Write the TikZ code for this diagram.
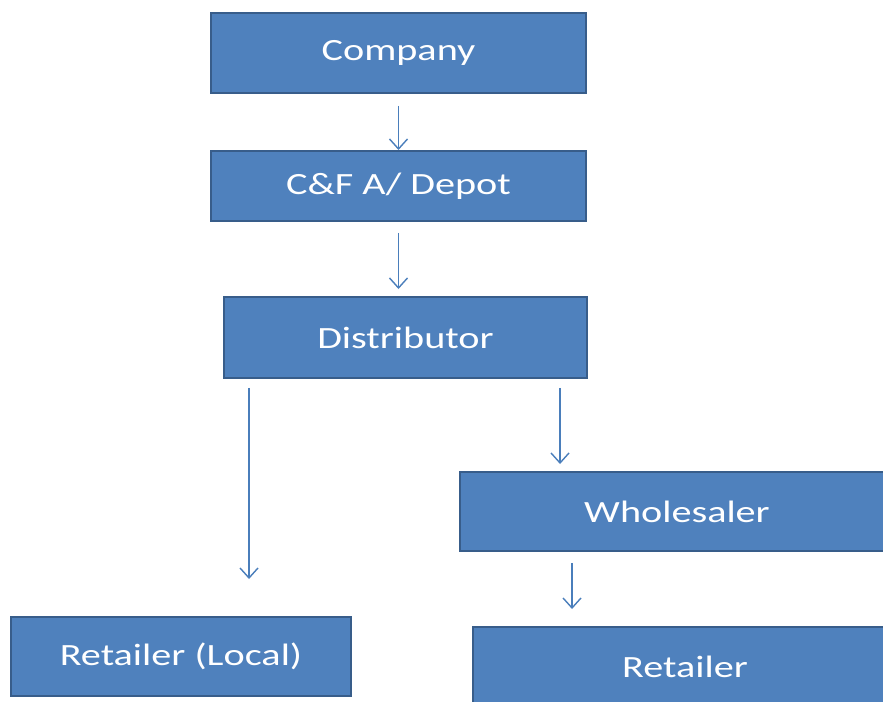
\documentclass[tikz,border=0pt]{standalone}
\usepackage{fontspec}
\setmainfont{Carlito}[FakeStretch=1.3]
\usetikzlibrary{arrows.meta, calc}

\definecolor{boxfill}{HTML}{4F81BD}
\definecolor{boxline}{HTML}{385D8A}
\definecolor{arrowblue}{HTML}{4A7EBB}

\begin{document}
\begin{tikzpicture}[font=\fontsize{22}{26}\selectfont,
		level/.style={draw=boxline, line width=1.4pt, fill=boxfill, text=white,
			inner sep=0pt, minimum width=#1},
		flow/.style={-{Straight Barb[length=0.25cm, width=0.45cm]}, arrowblue, line width=1pt}]
		
		\useasboundingbox (0,0) rectangle (22.075,-17.55);
		
		% --- Cadeia principal
		\node[level=9.375cm, minimum height=2cm]    (company) at (9.9625,-1.325) {Company};
		\node[level=9.375cm, minimum height=1.75cm] (cf)      at (9.9625,-4.65)  {C\&F A/ Depot};
		\node[level=9.075cm, minimum height=2.025cm] (dist)   at (10.1375,-8.4375) {Distributor};
		
		% --- Ramos
		\node[level=10.85cm, minimum height=1.975cm] (whole) at (16.925,-12.7875) {Wholesaler};
		\node[level=8.5cm, minimum height=1.975cm]   (retl)  at (4.525,-16.4125) {Retailer (Local)};
		\node[level=10.6cm, minimum height=2cm]      (ret)   at (17.125,-16.675) {Retailer};
		
		% Pontas livres das setas
		\coordinate (wtop) at ([xshift=2.525cm,yshift=0.175cm]whole.north west);
		\coordinate (rtop) at ([xshift=2.5cm,yshift=0.425cm]ret.north west);
		\coordinate (ltop) at ([xshift=5.975cm,yshift=0.925cm]retl.north west);
		
		% Setas
		\draw[flow] ([yshift=-0.3cm]company.south) -- (cf.north);
		\draw[flow] ([yshift=-0.275cm]cf.south) -- ($(cf.south |- dist.north)+(0,0.175)$);
		\draw[flow] ([yshift=-0.225cm]dist.south -| wtop) -- (wtop);
		\draw[flow] ([yshift=-0.225cm]dist.south -| ltop) -- (ltop);
		\draw[flow] ([yshift=-0.275cm]whole.south -| rtop) -- (rtop);
		
	\end{tikzpicture}
\end{document}
